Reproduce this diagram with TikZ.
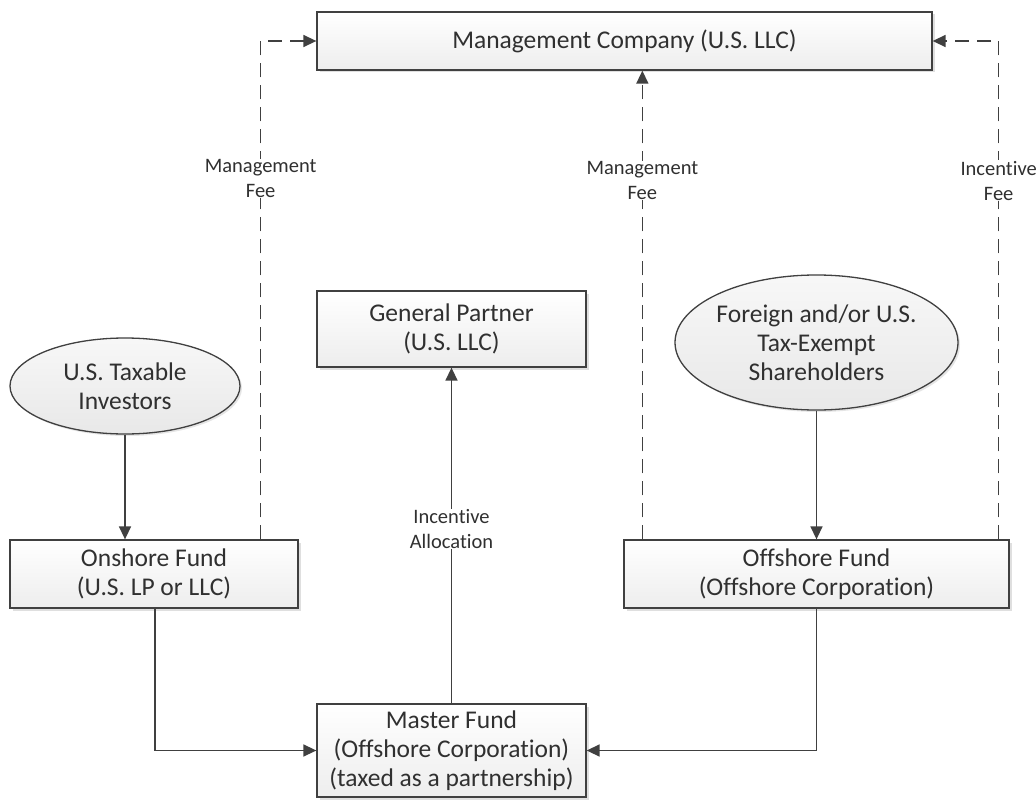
\documentclass[tikz,border=0pt]{standalone}
\usepackage{fontspec}
\setmainfont{Carlito}[RawFeature={-liga;-clig;-dlig;-calt}]
\usetikzlibrary{arrows.meta,shadows,calc,shapes.geometric}
\definecolor{ln}{HTML}{404040}
\definecolor{tx}{HTML}{303030}
\tikzset{
  x=1pt,y=-1pt,
  boxtext/.style={font=\fontsize{25.5}{29}\selectfont, text=tx, align=center},
  box/.style={boxtext, draw=ln, line width=1.3pt, rectangle, inner sep=0pt,
    top color=white, bottom color=gray!14,
    drop shadow={opacity=0.25, shadow xshift=2.5pt, shadow yshift=-2.5pt, fill=gray}},
  oval/.style={boxtext, draw=ln, line width=1.3pt, ellipse, inner sep=0pt,
    top color=gray!6, bottom color=gray!18,
    drop shadow={opacity=0.2, shadow xshift=2pt, shadow yshift=-2pt, fill=gray}},
  lbl/.style={font=\fontsize{20.5}{25}\selectfont, text=tx, align=center, fill=white, inner sep=0.5pt},
  arr/.style={draw=ln, line width=1.5pt, -{Triangle[length=13pt,width=12pt]}},
  dsh/.style={arr, dash pattern=on 14pt off 8pt},
}
\begin{document}
\begin{tikzpicture}
\useasboundingbox (0,0) rectangle (1036,800);
\fill[white] (0,0) rectangle (1036,800);
\node[box, minimum width=615pt, minimum height=58pt] (mc) at (624.5,41) {Management Company (U.S. LLC)};
\node[box, minimum width=269pt, minimum height=76pt] (gp) at (451.5,329) {General Partner\\(U.S. LLC)};
\node[box, minimum width=269pt, minimum height=93pt] (mf) at (451.5,750.5) {Master Fund\\(Offshore Corporation)\\(taxed as a partnership)};
\node[box, minimum width=288pt, minimum height=68pt] (on) at (154,574) {Onshore Fund\\(U.S. LP or LLC)};
\node[box, minimum width=385pt, minimum height=68pt] (off) at (816.5,574) {Offshore Fund\\(Offshore Corporation)};
\node[oval, minimum width=230pt, minimum height=96pt] (ust) at (125,386) {U.S. Taxable\\Investors};
\node[oval, minimum width=251pt, minimum height=135pt] (fs) at (816.5,342.5) {Foreign and/or U.S.\\Tax-Exempt\\Shareholders};

\draw[arr] (ust.south) -- (ust.south |- on.north);
\draw[arr] (fs.south) -- (fs.south |- off.north);
\draw[arr] ([xshift=1pt]on.south) |- (mf.west);
\draw[arr] (off.south) |- (mf.east);
\draw[arr] (mf.north) -- node[lbl, pos=0.52] {Incentive\\Allocation} (gp.south);

\draw[dsh] ([xshift=-38pt]on.north east) |- node[lbl, pos=0.362] {Management\\Fee} (mc.west);
\draw[dsh] ([xshift=19pt]off.north west) -- node[lbl, pos=0.766] {Management\\Fee} ([xshift=19pt]off.north west |- mc.south);
\draw[dsh] ([xshift=-11pt]off.north east) |- node[lbl, pos=0.36] {Incentive\\Fee} (mc.east);
\end{tikzpicture}
\end{document}
